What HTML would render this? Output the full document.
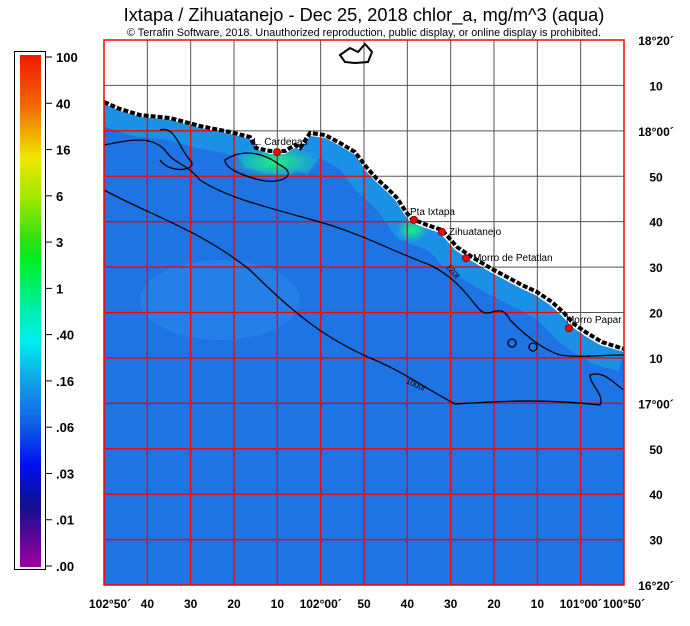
<!DOCTYPE html>
<html><head><meta charset="utf-8">
<style>
body{margin:0;background:#fff;width:690px;height:626px;overflow:hidden;font-family:"Liberation Sans",sans-serif}
svg{display:block}
</style></head><body>
<svg id="s" width="690" height="626">
<defs>
<linearGradient id="cb" x1="0" y1="0" x2="0" y2="1">
<stop offset="0" stop-color="#f01800"/><stop offset="0.1" stop-color="#f06a00"/>
<stop offset="0.2" stop-color="#f0e800"/><stop offset="0.28" stop-color="#a0e800"/>
<stop offset="0.36" stop-color="#30e010"/><stop offset="0.4" stop-color="#00ee20"/>
<stop offset="0.5" stop-color="#00eeb0"/><stop offset="0.56" stop-color="#00eef0"/>
<stop offset="0.63" stop-color="#10a8e8"/><stop offset="0.72" stop-color="#1060e8"/>
<stop offset="0.8" stop-color="#0010f0"/><stop offset="0.88" stop-color="#101090"/>
<stop offset="1" stop-color="#a000a0"/>
</linearGradient>
<clipPath id="sea"><polygon id="seapoly" points="104,104 120,111 140,117 170,120 200,128 230,134 250,139 258,150 270,154 285,154 295,148 300,150 310,136 325,138 340,146 355,155 365,170 375,181 385,190 395,200 404,214 410,222 425,228 440,233 455,250 470,260 490,272 505,280 520,288 535,295 550,305 562,316 572,327 585,336 600,345 624,352 624,585 104,585"/></clipPath>
<radialGradient id="grn" cx="0.5" cy="0.5" r="0.5"><stop offset="0" stop-color="#20f080"/><stop offset="1" stop-color="#20f080" stop-opacity="0"/></radialGradient>
</defs>
<text x="364" y="21" font-size="18.2" text-anchor="middle">Ixtapa / Zihuatanejo - Dec 25, 2018  chlor_a, mg/m^3 (aqua)</text>
<text x="364" y="36" font-size="10.8" text-anchor="middle">© Terrafin Software,  2018.  Unauthorized reproduction, public display, or online display is prohibited.</text>
<g id="grid-gray"></g>
<g clip-path="url(#sea)">
<rect x="104" y="40" width="520" height="545" fill="#1f74e4"/>
<polyline points="104,104 120,111 140,117 170,120 200,128 230,134 250,139 258,150 270,154 285,154 295,148 300,150 310,136 325,138 340,146 355,155 365,170 375,181 385,190 395,200 404,214 410,222 425,228 440,233 455,250 470,260 490,272 505,280 520,288 535,295 550,305 562,316 572,327 585,336 600,345 624,352" fill="none" stroke="#1a98e6" stroke-width="40" opacity="0.8"/>
<ellipse cx="275" cy="162" rx="45" ry="16" fill="url(#grn)"/>
<ellipse cx="412" cy="230" rx="16" ry="12" fill="url(#grn)"/>
<ellipse cx="220" cy="300" rx="80" ry="40" fill="#2a8ae8" opacity="0.5"/>
<g id="grid-red"></g>
</g>
<polyline points="104,102 120,109 140,115 170,118 200,126 230,132 250,137 256,148 270,151 285,151 295,145 300,148 310,133 325,135 340,143 355,152 367,168 377,179 387,188 397,198 406,212 412,219 427,225 442,230 457,247 472,257 492,269 507,277 522,285 537,292 552,302 564,313 574,324 587,333 602,342 624,349" fill="none" stroke="#000" stroke-width="4" stroke-dasharray="5 2"/>
<g fill="none" stroke="#000" stroke-width="1.3">
<path d="M104,145 C130,140 150,135 165,150 C175,165 185,162 200,180 C230,200 280,210 330,225 C370,238 390,250 430,265 C460,280 470,300 480,310 C490,320 500,300 510,320 C530,340 545,350 560,355 C580,358 600,355 624,355"/>
<path d="M160,130 C175,125 180,150 190,160 C200,170 170,175 160,160"/>
<path d="M225,160 C240,150 260,150 280,165 C300,175 280,185 260,180 C240,175 225,168 225,160Z"/>
<path d="M104,190 C150,215 200,230 250,270 C300,320 330,340 370,358 C400,370 420,385 455,404 C490,402 540,398 600,405 C605,395 590,385 590,375 C605,370 615,385 624,390"/>
<circle cx="512" cy="343" r="4"/><circle cx="533" cy="347" r="4"/>
<path d="M340,55 L350,48 L358,52 L365,44 L372,52 L368,62 L355,63 L345,62 Z" stroke-width="2"/>
</g>
<text x="435" y="290" font-size="8" transform="rotate(50 465 290)">120f</text>
<text x="405" y="385" font-size="8" transform="rotate(25 410 385)">1000f</text>
<g id="places" font-size="10"></g>
<rect x="104" y="40" width="520" height="545" fill="none" stroke="#f00" stroke-width="1.5"/>
<rect x="14.5" y="51.5" width="31" height="518" fill="#fff" stroke="#000"/>
<rect x="20" y="55" width="21" height="512" fill="url(#cb)"/>
<g id="cbticks" font-size="13" font-weight="bold"></g>
<g id="lat" font-size="12" font-weight="bold"></g>
<g id="lon" font-size="12" font-weight="bold"></g>
</svg>
<script>
const NS="http://www.w3.org/2000/svg";
const cbLabels=["100","40","16","6","3","1",".40",".16",".06",".03",".01",".00"];
const latLabels=["18°20´","10","18°00´","50","40","30","20","10","17°00´","50","40","30","16°20´"];
const lonLabels=["102°50´","40","30","20","10","102°00´","50","40","30","20","10","101°00´","100°50´"];
const placeNames=["L. Cardenas","Pta Ixtapa","Zihuatanejo","Morro de Petatlan","Morro Papar"];
const placeLon=[-102.212,-101.668,-101.557,-101.461,-101.052];
const placeLat=[17.922,17.673,17.629,17.533,17.276];
const X0=104,X1=624,Y0=40,Y1=585;
const lonMin=-102.9,lonMax=-100.8333,latMin=16.3333,latMax=18.3333;
const xs=v=>X0+(v-lonMin)/(lonMax-lonMin)*(X1-X0);
const ys=v=>Y0+(latMax-v)/(latMax-latMin)*(Y1-Y0);
function mk(t,a,p){const e=document.createElementNS(NS,t);for(const k in a)e.setAttribute(k,a[k]);p.appendChild(e);return e;}
const gg=document.getElementById('grid-gray'),gr=document.getElementById('grid-red');
for(let i=0;i<lonLabels.length;i++){
 const x=X0+i*(X1-X0)/(lonLabels.length-1);
 let l=mk('line',{x1:x,x2:x,y1:Y0,y2:Y1,stroke:'#555'},gg);
 
 l=mk('line',{x1:x,x2:x,y1:Y0,y2:Y1,stroke:'#f00','stroke-width':1.3},gr);
 
 const t=mk('text',{x:i==0?x+6:x,y:608,'text-anchor':'middle'},document.getElementById('lon'));t.textContent=lonLabels[i];
 
}
for(let i=0;i<latLabels.length;i++){
 const y=Y0+i*(Y1-Y0)/(latLabels.length-1);
 let l=mk('line',{x1:X0,x2:X1,y1:y,y2:y,stroke:'#555'},gg);
 
 l=mk('line',{x1:X0,x2:X1,y1:y,y2:y,stroke:'#f00','stroke-width':1.3},gr);
 
 const t=mk('text',{x:656,y:y+5,'text-anchor':'middle'},document.getElementById('lat'));t.textContent=latLabels[i];
 
}
const cg=document.getElementById('cbticks');
for(let i=0;i<cbLabels.length;i++){
 const y=57+i*(566-57)/(cbLabels.length-1);
 mk('line',{x1:45,x2:52,y1:y,y2:y,stroke:'#000'},cg);
 const t=mk('text',{x:56,y:y+5},cg);t.textContent=cbLabels[i];
 
}
const pg=document.getElementById('places');
const offs=[[-24,-7],[-4,-5],[7,3],[7,3],[-3,-5]];
for(let i=0;i<placeNames.length;i++){
 const x=xs(placeLon[i]),y=ys(placeLat[i]);
 const c=mk('circle',{cx:x,cy:y,r:3.5,fill:'#f00',stroke:'#800'},pg);
 
 const t=mk('text',{x:x+offs[i][0],y:y+offs[i][1]},pg);t.textContent=placeNames[i];
 
}
</script>
</body></html>
